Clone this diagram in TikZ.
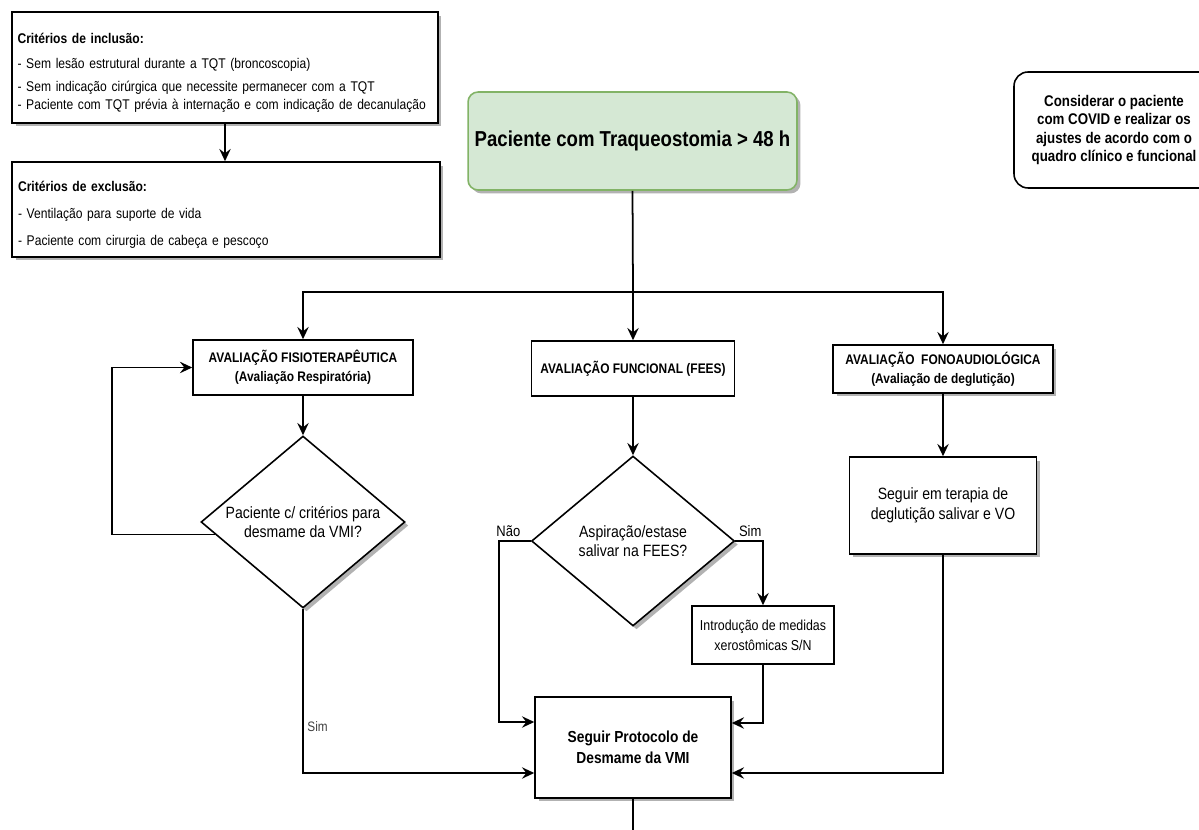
\documentclass[tikz,border=0pt]{standalone}
\usepackage{fontspec}
\setmainfont{Liberation Sans}[FakeStretch=0.86]
\usepackage{xcolor}
\definecolor{startgreen}{RGB}{213,232,212}
\definecolor{startline}{RGB}{130,179,102}
\usetikzlibrary{positioning,arrows.meta,shapes,shadows}
\newcommand\pxu{0.02cm}

\begin{document}
\begin{tikzpicture}[x=\pxu,y=-\pxu,
  box/.style={draw,line width=0.9pt,fill=white,inner sep=0pt,align=center},
  shade/.style={drop shadow={shadow xshift=0.07cm,shadow yshift=-0.07cm,fill=black!30,opacity=1}},
  decision/.style={box,shade,diamond,minimum width=#1},
  dtext/.style={align=center,inner sep=0pt,font=\fontsize{9.3}{10.8}\selectfont},
  lbl/.style={inner sep=2pt,font=\fontsize{8.6}{10}\selectfont},
  wire/.style={line width=1pt},
  flow/.style={wire,-{Stealth[length=7pt,width=6.5pt,inset=2.5pt]}}]
  \useasboundingbox[fill=white] (0,0) rectangle (1199,830);

  % criteria
  \node[box,shade,align=left,text width=8.3cm,minimum width=8.52cm,minimum height=2.22cm,
        font=\fontsize{8}{10.2}\selectfont] (incl) at (225,67.5) {
    \rule{0pt}{12pt}\textbf{Critérios de inclusão:}\\[4pt]
    - Sem lesão estrutural durante a TQT (broncoscopia)\\[2.8pt]
    - Sem indicação cirúrgica que necessite permanecer com a TQT\\
    - Paciente com TQT prévia à internação e com indicação de decanulação};
  \node[box,shade,align=left,text width=8.32cm,minimum width=8.56cm,minimum height=1.9cm,
        font=\fontsize{8}{10.2}\selectfont] (excl) at (226,209.5) {
    \rule{0pt}{12pt}\textbf{Critérios de exclusão:}\\[5pt]
    - Ventilação para suporte de vida\\[5.6pt]
    - Paciente com cirurgia de cabeça e pescoço};

  \node[box,shade,fill=startgreen,draw=startline,rounded corners=0.2cm,minimum width=6.58cm,
        minimum height=1.96cm,font=\fontsize{12.3}{14}\selectfont\bfseries] (start) at (632.5,141)
        {Paciente com Traqueostomia > 48 h};
  \node[box,rounded corners=0.28cm,minimum width=4cm,minimum height=2.32cm,
        font=\fontsize{8.8}{10.4}\selectfont\bfseries] (covid) at (1114,130)
        {Considerar o paciente\\com COVID e realizar os\\ajustes de acordo com o\\quadro clínico e funcional};

  % evaluations
  \node[box,minimum width=4.4cm,minimum height=1.1cm,font=\fontsize{7.9}{10.8}\selectfont\bfseries]
        (fisio) at (303,367.5) {AVALIAÇÃO FISIOTERAPÊUTICA\\(Avaliação Respiratória)};
  \node[box,minimum width=4.06cm,minimum height=1.1cm,font=\fontsize{7.9}{10.8}\selectfont\bfseries]
        (func) at (633,368.5) {AVALIAÇÃO FUNCIONAL (FEES)};
  \node[box,shade,minimum width=4.4cm,minimum height=0.96cm,font=\fontsize{7.9}{10.8}\selectfont\bfseries]
        (fono) at (943,369) {AVALIAÇÃO\ \ FONOAUDIOLÓGICA\\(Avaliação de deglutição)};

  \node[decision=4.08cm,minimum height=3.44cm,
        label={[dtext]center:{Paciente c/ critérios para\\desmame da VMI?}}] (crit) at (303,522) {};
  \node[decision=4.06cm,minimum height=3.4cm,
        label={[dtext]center:{Aspiração/estase\\salivar na FEES?}}] (fees) at (633,541) {};

  \node[box,minimum width=2.84cm,minimum height=1.16cm,font=\fontsize{8.2}{11.3}\selectfont]
        (xero) at (763,635) {Introdução de medidas\\xerostômicas S/N};
  \node[box,shade,minimum width=3.74cm,minimum height=1.94cm,font=\fontsize{9.3}{11.3}\selectfont]
        (terapia) at (943,505.5) {Seguir em terapia de\\deglutição salivar e VO};
  \node[box,shade,minimum width=3.92cm,minimum height=2.02cm,font=\fontsize{9.1}{11.9}\selectfont\bfseries]
        (prot) at (633,747.5) {Seguir Protocolo de\\Desmame da VMI};

  \coordinate (split) at (633,292);
  \coordinate (tail) at (633,840);

  % connectors
  \draw[flow] (incl.south) -- (incl.south |- excl.north);
  \draw[wire] (start.south) -- (split);
  \draw[flow] (split) -| (fisio.north);
  \draw[flow] (split) -- (func.north);
  \draw[flow] (split) -| (fono.north);
  \draw[flow] (fisio) -- (crit);
  \draw[flow] (crit.188) -| ([xshift=-1.6cm]fisio.west) -- (fisio.west);
  \draw[flow] (crit.south) |- node[lbl,pos=0.36,right,text=black!75,font=\fontsize{7.8}{9}\selectfont] {Sim}
        ([yshift=-0.51cm]prot.west);
  \draw[flow] (func) -- (fees);
  \draw[flow] (fees.west) -- node[lbl,pos=0.7,above] {Não} ++(-32,0) |- ([yshift=0.51cm]prot.west);
  \draw[flow] (fees.east) -| node[lbl,pos=0.27,above] {Sim} (xero.north);
  \draw[flow] (xero.south) |- ([yshift=0.49cm]prot.east);
  \draw[flow] (fono) -- (terapia);
  \draw[flow] (terapia.south) |- ([yshift=-0.51cm]prot.east);
  \draw[wire] (prot.south) -- (tail);
\end{tikzpicture}
\end{document}
